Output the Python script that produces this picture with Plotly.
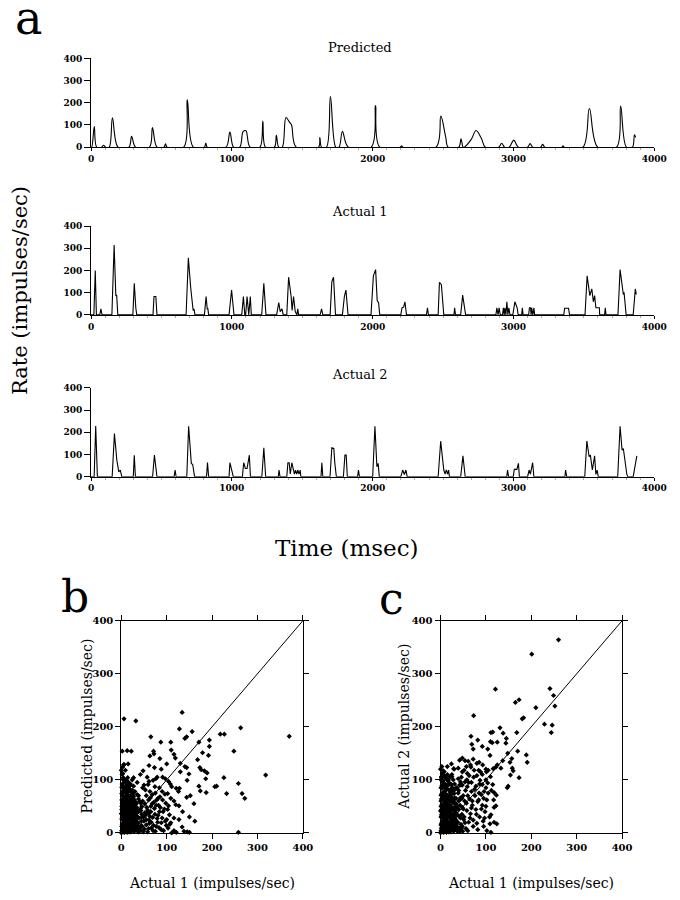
import plotly.graph_objects as go

# ---- panel a: rate (impulses/sec) against time (msec) ----
pred_t = [0, 5, 23, 40,
          75, 89, 103,
          129, 152, 192,
          269, 288, 316,
          415, 436, 468,
          518, 529, 540,
          658, 684, 726,
          805, 815, 825,
          958, 986, 1012,
          1056, 1080, 1100, 1129,
          1199, 1220, 1239,
          1302, 1316, 1333,
          1358, 1384, 1410, 1424, 1457,
          1615, 1625, 1637,
          1672, 1700, 1738,
          1761, 1785, 1827,
          1990, 2020, 2050,
          2195, 2205, 2215,
          2450, 2484, 2518, 2536,
          2612, 2627, 2642,
          2650, 2700, 2734, 2773, 2800,
          2895, 2916, 2937,
          2970, 3002, 3034,
          3100, 3118, 3136,
          3192, 3207, 3222,
          3345, 3352, 3359,
          3493, 3539, 3598,
          3732, 3761, 3802,
          3845, 3859, 3868]
pred_v = [0, 0, 93, 0,
          0, 9, 0,
          0, 132, 0,
          0, 49, 0,
          0, 88, 0,
          0, 15, 0,
          0, 213, 0,
          0, 19, 0,
          0, 68, 0,
          0, 70, 74, 0,
          0, 118, 0,
          0, 53, 0,
          0, 134, 112, 100, 0,
          0, 43, 0,
          0, 228, 0,
          0, 71, 0,
          0, 188, 0,
          0, 6, 0,
          0, 140, 48, 0,
          0, 38, 0,
          0, 35, 75, 38, 0,
          0, 18, 0,
          0, 32, 0,
          0, 16, 0,
          0, 13, 0,
          0, 6, 0,
          0, 174, 0,
          0, 185, 0,
          0, 56, 44]

act1_t = [0, 20, 30, 38,
          62, 70, 78,
          148, 164, 176, 182, 190,
          297, 307, 318, 325,
          440, 447, 460, 468,
          675, 691, 708, 714, 725, 731, 738,
          805, 817, 825, 830, 835,
          980, 998, 1015,
          1070, 1082, 1092,
          1098, 1108, 1115,
          1120, 1131, 1138,
          1212, 1227, 1242,
          1318, 1333, 1343, 1356, 1365,
          1390, 1403, 1421, 1428, 1438, 1450, 1462, 1468, 1474,
          1627, 1637, 1646,
          1698, 1710, 1722, 1736,
          1785, 1799, 1810, 1825,
          1988, 2005, 2021, 2032, 2042, 2050,
          2200, 2208, 2220, 2229, 2240,
          2382, 2389, 2396,
          2465, 2474, 2488, 2505,
          2577, 2582, 2588,
          2625, 2639, 2660,
          2875, 2882, 2890, 2898, 2906,
          2922, 2928, 2934, 2939, 2946, 2953, 2960, 2967, 2975,
          2995, 3010, 3026, 3033,
          3058, 3063, 3068,
          3108, 3113, 3121, 3125, 3129, 3137, 3145, 3150,
          3357, 3363, 3391, 3398,
          3508, 3523, 3542, 3556, 3567, 3576, 3585, 3610, 3612,
          3647, 3652, 3657,
          3742, 3757, 3771, 3780, 3785, 3800,
          3850, 3865, 3872]
act1_v = [0, 0, 200, 0,
          0, 27, 0,
          0, 315, 85, 90, 0,
          0, 142, 30, 0,
          0, 83, 83, 0,
          0, 257, 120, 86, 20, 27, 0,
          0, 83, 27, 27, 0,
          0, 112, 0,
          0, 83, 0,
          0, 83, 0,
          0, 83, 0,
          0, 142, 0,
          0, 56, 15, 27, 0,
          0, 170, 83, 20, 83, 15, 0, 27, 0,
          0, 27, 0,
          0, 150, 170, 0,
          0, 83, 112, 0,
          0, 176, 204, 65, 55, 0,
          0, 32, 35, 59, 0,
          0, 32, 0,
          0, 146, 136, 0,
          0, 32, 0,
          0, 89, 0,
          0, 32, 0, 32, 0,
          0, 32, 0, 32, 0, 59, 0, 32, 0,
          0, 59, 32, 0,
          0, 32, 0,
          0, 32, 32, 0, 32, 0, 32, 0,
          0, 30, 30, 0,
          0, 176, 87, 117, 59, 87, 32, 32, 0,
          0, 32, 0,
          0, 204, 118, 92, 102, 0,
          0, 117, 92]

act2_t = [0, 22, 33, 45,
          150, 166, 183, 197, 208, 218,
          300, 307, 315,
          437, 450, 468,
          590, 597, 604,
          680, 693, 712, 722, 727, 735,
          820, 827, 835,
          980, 986, 998, 1010,
          1075, 1084, 1096, 1108, 1124, 1132,
          1213, 1227, 1240,
          1330, 1335, 1342,
          1390, 1398, 1407, 1415, 1426, 1435, 1444, 1452, 1460, 1468, 1477, 1485, 1490,
          1633, 1639, 1646,
          1697, 1710, 1724, 1731, 1742,
          1792, 1803, 1812, 1820,
          1893, 1899, 1906,
          2000, 2016, 2030, 2039, 2047,
          2200, 2213, 2225, 2236, 2245,
          2465, 2483, 2505, 2514, 2523, 2532, 2539, 2545,
          2625, 2641, 2657,
          2952, 2958, 2965,
          2998, 3006, 3024, 3035, 3042,
          3100, 3111, 3120, 3136, 3145,
          3365, 3370, 3378,
          3506, 3521, 3537, 3546, 3560, 3576, 3585, 3594, 3602,
          3740, 3757, 3771, 3780, 3798, 3805, 3812,
          3850, 3876]
act2_v = [0, 0, 228, 0,
          0, 194, 75, 22, 30, 0,
          0, 97, 0,
          0, 97, 0,
          0, 30, 0,
          0, 227, 60, 55, 30, 0,
          0, 64, 0,
          0, 63, 37, 0,
          0, 63, 37, 37, 97, 0,
          0, 130, 0,
          0, 30, 0,
          0, 63, 63, 12, 63, 30, 12, 30, 12, 30, 12, 30, 0,
          0, 63, 0,
          0, 130, 127, 63, 0,
          0, 97, 97, 0,
          0, 30, 0,
          0, 227, 45, 60, 0,
          0, 30, 10, 30, 0,
          0, 160, 30, 12, 30, 12, 30, 0,
          0, 94, 0,
          0, 30, 0,
          0, 33, 33, 60, 0,
          0, 30, 12, 63, 0,
          0, 30, 0,
          0, 161, 90, 97, 30, 94, 10, 30, 0,
          0, 227, 120, 127, 30, 10, 0,
          0, 94]

rate_ticks = [0, 100, 200, 300, 400]
time_ticks = [0, 1000, 2000, 3000, 4000]

# ---- panel b: Predicted vs Actual 1 ----
b_pts = [
    # dense cluster near the origin
    (0, 0), (2, 6), (5, 2), (1, 12), (7, 9), (4, 18), (9, 3), (11, 14), (3, 25), (8, 22),
    (13, 7), (15, 19), (6, 31), (12, 28), (17, 2), (18, 12), (2, 38), (10, 36), (16, 33), (20, 24),
    (22, 8), (21, 40), (7, 44), (14, 46), (25, 16), (24, 30), (1, 50), (11, 53), (19, 50), (27, 4),
    (28, 38), (5, 58), (15, 60), (23, 57), (30, 22), (31, 10), (9, 66), (3, 70), (18, 68), (26, 48),
    (33, 32), (35, 4), (12, 74), (6, 80), (21, 77), (29, 62), (37, 18), (36, 42), (1, 86), (10, 88),
    (16, 84), (25, 70), (39, 28), (40, 8), (33, 55), (8, 95), (20, 92), (4, 100), (30, 78), (42, 45),
    (44, 14), (46, 30), (14, 104), (2, 110), (38, 64), (27, 88), (48, 2), (50, 22), (35, 72), (24, 100),
    (9, 118), (5, 128), (43, 56), (52, 38), (3, 2), (6, 12), (13, 1), (22, 18), (17, 41), (28, 28),
    (1, 26), (11, 8), (19, 33), (26, 10), (32, 46), (7, 55), (14, 16), (24, 62), (34, 14), (3, 62),
    (1, 4), (3, 10), (5, 6), (7, 1), (9, 8), (11, 3), (13, 11), (15, 4), (17, 9), (19, 5),
    (21, 2), (23, 12), (25, 6), (27, 14), (29, 3), (31, 18), (33, 8), (2, 16), (4, 14), (6, 20),
    (8, 15), (10, 22), (12, 19), (14, 24), (16, 15), (18, 27), (20, 16), (22, 26), (24, 22), (26, 29),
    (28, 19), (30, 31), (32, 24), (34, 21), (36, 11), (38, 2), (2, 30), (4, 34), (6, 26), (8, 38),
    (10, 30), (12, 41), (14, 36), (16, 44), (18, 38), (20, 46), (22, 35), (24, 43), (26, 38), (28, 50),
    (30, 42), (32, 36), (34, 48), (36, 30), (38, 40), (1, 44), (3, 46), (5, 40), (7, 48), (9, 52),
    (11, 46), (13, 56), (15, 50), (17, 58), (19, 56), (21, 52), (23, 64), (25, 56), (27, 68), (29, 52),
    (31, 58), (2, 56), (4, 64), (6, 66), (8, 60), (10, 70), (12, 64), (14, 72), (16, 78), (18, 60),
    (20, 70), (22, 66), (24, 80), (26, 74), (1, 74), (3, 78), (5, 86), (7, 82), (9, 76), (11, 80),
    (13, 90), (15, 96), (17, 88), (19, 82), (2, 92), (6, 102), (0, 118), (3, 112), (1, 62), (0, 36),
    # middle of the cloud
    (42, 5), (46, 12), (51, 7), (55, 15), (58, 2), (62, 18), (66, 9), (71, 14), (75, 3), (79, 27),
    (83, 10), (88, 19), (93, 4), (97, 22), (103, 9), (107, 16), (44, 22), (48, 29), (53, 33), (57, 38),
    (61, 24), (65, 40), (69, 29), (73, 46), (77, 52), (81, 33), (86, 48), (92, 40), (98, 56), (102, 44),
    (43, 42), (47, 60), (52, 55), (56, 48), (60, 36), (64, 66), (68, 72), (72, 58), (78, 62), (85, 68),
    # scattered points
    (6, 215), (32, 211), (134, 227), (65, 181), (128, 196), (156, 191), (140, 178), (144, 181),
    (218, 186), (227, 186), (263, 198), (370, 182), (194, 175), (171, 171), (194, 163), (248, 154),
    (192, 146), (179, 151), (168, 138), (87, 171), (109, 171), (110, 156), (71, 154), (72, 149),
    (63, 145), (116, 148), (119, 141), (2, 154), (13, 155), (22, 154), (6, 129), (15, 130),
    (3, 124), (48, 117), (61, 127), (73, 123), (130, 131), (140, 125), (144, 123), (130, 115),
    (149, 111), (145, 99), (173, 123), (176, 119), (183, 117), (189, 113), (186, 102), (171, 88),
    (174, 79), (187, 76), (206, 87), (210, 88), (226, 104), (258, 93), (232, 74), (266, 74),
    (272, 65), (318, 109), (162, 22), (144, 67), (126, 78), (121, 84), (128, 84), (108, 92),
    (111, 87), (104, 97), (97, 102), (91, 105), (79, 105), (76, 102), (70, 99), (61, 97),
    (59, 91), (50, 90), (53, 81), (63, 78), (74, 87), (84, 85), (90, 78), (96, 73),
    (102, 74), (81, 65), (91, 62), (109, 65), (116, 60), (120, 53), (127, 51), (104, 51),
    (95, 45), (84, 40), (74, 35), (106, 34), (116, 28), (127, 25), (134, 11), (109, 19),
    (99, 14), (88, 6), (116, 4), (138, 3), (145, 2), (77, 12), (66, 20), (63, 31),
    (58, 43), (45, 50), (40, 59), (38, 70), (27, 78), (20, 90), (11, 99), (4, 104),
    (27, 104), (16, 84), (258, 1), (111, 0), (121, 1), (150, 1),
    (55, 70), (68, 55), (82, 52), (60, 62), (47, 85), (35, 95), (42, 110), (57, 105),
    (88, 120), (100, 130), (85, 140), (152, 70), (160, 55), (135, 40), (150, 30), (100, 25),
    (60, 8), (70, 4), (80, 20), (90, 28), (55, 25), (45, 35), (65, 50), (75, 75),
]
b_x = [p[0] for p in b_pts]
b_y = [p[1] for p in b_pts]

# ---- panel c: Actual 2 vs Actual 1 ----
c_pts = [
    # dense cluster near the origin
    (0, 0), (2, 8), (5, 3), (1, 15), (7, 11), (4, 22), (9, 4), (12, 17), (3, 30), (8, 26),
    (14, 6), (16, 22), (6, 36), (13, 33), (18, 2), (19, 14), (2, 44), (10, 42), (17, 39), (21, 28),
    (23, 9), (22, 48), (7, 52), (15, 55), (26, 18), (25, 35), (1, 60), (11, 63), (20, 60), (28, 5),
    (29, 45), (5, 68), (16, 71), (24, 68), (31, 25), (32, 12), (9, 78), (3, 84), (19, 80), (27, 57),
    (34, 38), (36, 4), (12, 88), (6, 95), (22, 92), (30, 74), (38, 20), (37, 50), (1, 100), (10, 104),
    (17, 98), (26, 84), (40, 32), (41, 9), (34, 65), (8, 108), (21, 106), (4, 112), (31, 92), (43, 52),
    (45, 16), (47, 35), (14, 100), (2, 104), (39, 75), (28, 100), (49, 3), (51, 25), (36, 85), (25, 106),
    (3, 2), (6, 14), (13, 1), (22, 20), (18, 48), (29, 32), (1, 30), (11, 9), (20, 38), (27, 11),
    (33, 54), (7, 64), (15, 18), (24, 74), (35, 16), (3, 74), (44, 66), (42, 90), (48, 48), (53, 60),
    (1, 4), (3, 10), (5, 6), (7, 1), (9, 8), (11, 3), (13, 11), (15, 4), (17, 9), (19, 5),
    (21, 2), (23, 12), (25, 6), (27, 14), (29, 3), (31, 18), (33, 8), (2, 18), (4, 16), (6, 22),
    (8, 17), (10, 25), (12, 21), (14, 28), (16, 17), (18, 31), (20, 18), (22, 30), (24, 25), (26, 33),
    (28, 22), (30, 36), (32, 28), (34, 24), (36, 12), (38, 3), (2, 34), (4, 39), (6, 30), (8, 44),
    (10, 35), (12, 47), (14, 41), (16, 50), (18, 43), (20, 53), (22, 40), (24, 49), (26, 44), (28, 57),
    (30, 48), (32, 41), (34, 55), (36, 34), (38, 46), (1, 50), (3, 53), (5, 46), (7, 55), (9, 60),
    (11, 53), (13, 64), (15, 57), (17, 66), (19, 64), (21, 60), (23, 73), (25, 64), (27, 78), (29, 60),
    (31, 66), (2, 64), (4, 73), (6, 76), (8, 69), (10, 80), (12, 73), (14, 83), (16, 89), (18, 69),
    (20, 80), (22, 76), (24, 91), (26, 85), (1, 85), (3, 89), (5, 98), (7, 94), (9, 87), (11, 91),
    (13, 103), (15, 110), (17, 101), (19, 94), (2, 106), (6, 117), (0, 120), (3, 125), (1, 71), (0, 41),
    (40, 44), (42, 62), (44, 28), (46, 8), (40, 80), (44, 96),
    # middle of the cloud
    (48, 12), (52, 30), (56, 8), (58, 42), (62, 20), (64, 64), (66, 36), (70, 52), (72, 24), (75, 82),
    (78, 44), (80, 18), (84, 62), (86, 30), (90, 72), (92, 52), (94, 22), (98, 40), (102, 62), (104, 94),
    (108, 30), (112, 80), (50, 70), (55, 80), (58, 100), (63, 108), (68, 95), (74, 118), (80, 108), (86, 92),
    (92, 110), (96, 78), (100, 120), (48, 90), (52, 118), (46, 105), (57, 125), (66, 128), (84, 118), (93, 128),
    # scattered points
    (260, 364), (201, 337), (121, 271), (241, 272), (249, 259), (252, 239), (165, 246), (173, 251),
    (210, 236), (73, 221), (180, 215), (183, 217), (229, 205), (246, 203), (244, 189), (168, 189),
    (131, 198), (115, 190), (111, 189), (138, 188), (145, 178), (67, 182), (110, 172), (114, 170),
    (125, 171), (144, 169), (82, 175), (69, 167), (72, 158), (92, 163), (104, 158), (109, 146),
    (148, 150), (170, 154), (189, 147), (191, 133), (157, 140), (153, 133), (158, 122), (160, 117),
    (154, 109), (173, 104), (149, 88), (147, 85), (133, 122), (137, 136), (125, 128), (122, 124),
    (116, 121), (105, 118), (110, 106), (101, 115), (85, 133), (80, 131), (72, 139), (61, 135),
    (67, 124), (54, 136), (48, 141), (42, 137), (24, 130), (29, 121), (39, 122), (48, 115),
    (59, 112), (73, 105), (87, 99), (92, 91), (100, 85), (115, 91), (118, 76), (123, 71),
    (117, 62), (122, 51), (118, 48), (111, 34), (118, 20), (124, 17), (109, 17), (111, 1),
    (97, 28), (90, 45), (82, 59), (76, 70), (68, 78), (59, 87), (54, 96), (39, 102),
    (25, 110), (11, 105), (5, 96), (14, 90), (32, 82), (47, 65), (57, 56), (68, 47),
    (79, 35), (65, 28), (54, 19), (72, 12), (82, 6), (43, 3),
    (60, 70), (70, 60), (85, 75), (95, 65), (100, 50), (50, 45), (40, 60), (30, 120),
    (15, 125), (8, 115), (62, 95), (78, 88), (88, 115), (100, 100), (105, 75), (95, 12),
    (102, 4), (60, 4), (35, 85), (45, 90),
]
c_x = [p[0] for p in c_pts]
c_y = [p[1] for p in c_pts]

diag = [0, 400]

# the page body has an 8px margin, so the figure is drawn 8px in from the window corner
PAGE_MARGIN = 8
W, H = 672, 892
SERIF = 'DejaVu Serif'
TICK_FONT = dict(family=SERIF, size=9, color='black', weight='bold')


def px_x(px):
    return (px - PAGE_MARGIN) / W


def px_y(py):
    return 1 - (py - PAGE_MARGIN) / H


def time_axes(top, bottom, anchor):
    xa = dict(domain=[px_x(90), px_x(667)], range=[0, 4000], anchor=anchor,
              showline=True, linecolor='black', linewidth=1,
              ticks='outside', ticklen=3, tickcolor='black', tickvals=time_ticks,
              minor=dict(tick0=0, dtick=100, ticks='outside', ticklen=2, tickcolor='#aaaaaa'),
              showgrid=False, zeroline=False, tickfont=TICK_FONT)
    ya = dict(domain=[px_y(bottom), px_y(top)], range=[0, 400],
              showline=True, linecolor='black', linewidth=1,
              ticks='outside', ticklen=6, tickcolor='black', tickvals=rate_ticks,
              showgrid=False, zeroline=False, tickfont=TICK_FONT)
    return xa, ya


def scatter_axes(left, right, anchor):
    common = dict(range=[0, 400], showline=True, mirror='ticks', linecolor='black', linewidth=1,
                  ticks='outside', ticklen=5, tickcolor='black', tickvals=rate_ticks,
                  showgrid=False, zeroline=False,
                  tickfont=dict(family=SERIF, size=10, color='black', weight='bold'))
    xa = dict(domain=[px_x(left), px_x(right)], anchor=anchor, **common)
    ya = dict(domain=[px_y(838), px_y(623)], **common)
    return xa, ya


def rate_line(t, v, xa, ya, shape='linear'):
    return go.Scatter(x=t, y=v, xaxis=xa, yaxis=ya, mode='lines', line_shape=shape,
                      line=dict(color='black', width=1.1), hoverinfo='skip')


def scatter_panel(x, y, xa, ya):
    dots = go.Scatter(x=x, y=y, xaxis=xa, yaxis=ya, mode='markers',
                      marker=dict(symbol='diamond', size=4, color='black'), cliponaxis=False)
    ident = go.Scatter(x=diag, y=diag, xaxis=xa, yaxis=ya, mode='lines',
                       line=dict(color='black', width=1))
    return [ident, dots]


def label(text, x, y, size, angle=0):
    return dict(text=text, x=px_x(x), y=px_y(y), xref='paper', yref='paper',
                showarrow=False, textangle=angle, xanchor='center', yanchor='middle',
                font=dict(family=SERIF, size=size, color='black'))


traces = [
    rate_line(pred_t, pred_v, 'x', 'y', 'spline'),
    rate_line(act1_t, act1_v, 'x2', 'y2'),
    rate_line(act2_t, act2_v, 'x3', 'y3'),
]
traces += scatter_panel(b_x, b_y, 'x4', 'y4')
traces += scatter_panel(c_x, c_y, 'x5', 'y5')

fig = go.Figure(data=traces)

x1, y1 = time_axes(53, 143, 'y')
x2, y2 = time_axes(223, 313, 'y2')
x3, y3 = time_axes(387, 477, 'y3')
x4, y4 = scatter_axes(121, 307, 'y4')
x5, y5 = scatter_axes(448, 634, 'y5')

fig.update_layout(
    width=W, height=H,
    margin=dict(l=0, r=0, t=0, b=0),
    paper_bgcolor='white', plot_bgcolor='white',
    showlegend=False,
    xaxis=x1, yaxis=y1,
    xaxis2=x2, yaxis2=dict(y2, anchor='x2'),
    xaxis3=x3, yaxis3=dict(y3, anchor='x3'),
    xaxis4=x4, yaxis4=dict(y4, anchor='x4'),
    xaxis5=x5, yaxis5=dict(y5, anchor='x5'),
    annotations=[
        label('a', 26, 12, 46),
        label('Predicted', 366, 42, 13),
        label('Actual 1', 366, 208, 13),
        label('Actual 2', 366, 373, 13),
        label('Rate (impulses/sec)', 17, 288, 21, -90),
        label('Time (msec)', 352, 549, 23),
        label('b', 74, 598, 44),
        label('c', 398, 600, 44),
        label('Predicted (impulses/sec)', 86, 730, 14, -90),
        label('Actual 2 (impulses/sec)', 411, 730, 14, -90),
        label('Actual 1 (impulses/sec)', 214, 889, 14),
        label('Actual 1 (impulses/sec)', 541, 889, 14),
    ],
)

fig.write_html("out.html")
